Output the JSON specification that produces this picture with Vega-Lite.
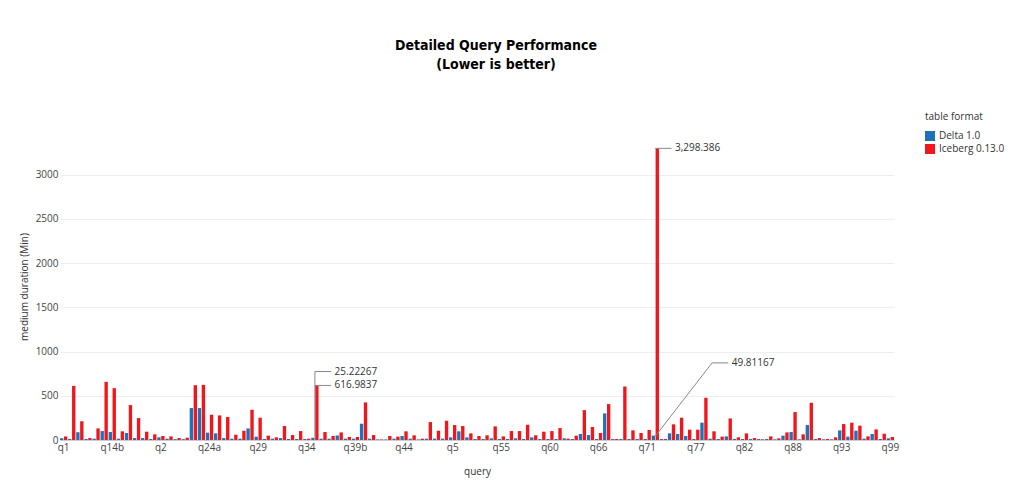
{
  "$schema": "https://vega.github.io/schema/vega-lite/v6.json",
  "width": 834,
  "height": 307,
  "autosize": {"type": "none"},
  "padding": {"left": 60, "top": 133, "right": 130, "bottom": 41},
  "title": {
    "text": ["Detailed Query Performance", "(Lower is better)"],
    "font": "Liberation Sans Narrow, DejaVu Sans Condensed, sans-serif",
    "fontSize": 14,
    "fontWeight": "bold",
    "lineHeight": 19,
    "color": "#000000",
    "anchor": "middle",
    "dx": 19,
    "offset": 40
  },
  "config": {
    "view": {"stroke": null},
    "font": "Open Sans",
    "axis": {"labelFont": "Open Sans", "titleFont": "Open Sans"},
    "legend": {"labelFont": "Open Sans", "titleFont": "Open Sans"}
  },
  "layer": [
    {
      "data": {
        "values": [
          {"query": "q1", "format": "Delta 1.0", "duration": 20}, {"query": "q1", "format": "Iceberg 0.13.0", "duration": 40},
          {"query": "q10", "format": "Delta 1.0", "duration": 12}, {"query": "q10", "format": "Iceberg 0.13.0", "duration": 612},
          {"query": "q11", "format": "Delta 1.0", "duration": 88}, {"query": "q11", "format": "Iceberg 0.13.0", "duration": 212},
          {"query": "q12", "format": "Delta 1.0", "duration": 11}, {"query": "q12", "format": "Iceberg 0.13.0", "duration": 22},
          {"query": "q13", "format": "Delta 1.0", "duration": 15}, {"query": "q13", "format": "Iceberg 0.13.0", "duration": 131},
          {"query": "q14a", "format": "Delta 1.0", "duration": 101}, {"query": "q14a", "format": "Iceberg 0.13.0", "duration": 658},
          {"query": "q14b", "format": "Delta 1.0", "duration": 90}, {"query": "q14b", "format": "Iceberg 0.13.0", "duration": 586},
          {"query": "q15", "format": "Delta 1.0", "duration": 15}, {"query": "q15", "format": "Iceberg 0.13.0", "duration": 98},
          {"query": "q16", "format": "Delta 1.0", "duration": 79}, {"query": "q16", "format": "Iceberg 0.13.0", "duration": 395},
          {"query": "q17", "format": "Delta 1.0", "duration": 22}, {"query": "q17", "format": "Iceberg 0.13.0", "duration": 248},
          {"query": "q18", "format": "Delta 1.0", "duration": 22}, {"query": "q18", "format": "Iceberg 0.13.0", "duration": 94},
          {"query": "q19", "format": "Delta 1.0", "duration": 11}, {"query": "q19", "format": "Iceberg 0.13.0", "duration": 64},
          {"query": "q2", "format": "Delta 1.0", "duration": 30}, {"query": "q2", "format": "Iceberg 0.13.0", "duration": 45},
          {"query": "q20", "format": "Delta 1.0", "duration": 15}, {"query": "q20", "format": "Iceberg 0.13.0", "duration": 41},
          {"query": "q21", "format": "Delta 1.0", "duration": 10}, {"query": "q21", "format": "Iceberg 0.13.0", "duration": 22},
          {"query": "q22", "format": "Delta 1.0", "duration": 10}, {"query": "q22", "format": "Iceberg 0.13.0", "duration": 26},
          {"query": "q23a", "format": "Delta 1.0", "duration": 361}, {"query": "q23a", "format": "Iceberg 0.13.0", "duration": 620},
          {"query": "q23b", "format": "Delta 1.0", "duration": 361}, {"query": "q23b", "format": "Iceberg 0.13.0", "duration": 624},
          {"query": "q24a", "format": "Delta 1.0", "duration": 83}, {"query": "q24a", "format": "Iceberg 0.13.0", "duration": 286},
          {"query": "q24b", "format": "Delta 1.0", "duration": 75}, {"query": "q24b", "format": "Iceberg 0.13.0", "duration": 278},
          {"query": "q25", "format": "Delta 1.0", "duration": 22}, {"query": "q25", "format": "Iceberg 0.13.0", "duration": 260},
          {"query": "q26", "format": "Delta 1.0", "duration": 15}, {"query": "q26", "format": "Iceberg 0.13.0", "duration": 60},
          {"query": "q27", "format": "Delta 1.0", "duration": 15}, {"query": "q27", "format": "Iceberg 0.13.0", "duration": 105},
          {"query": "q28", "format": "Delta 1.0", "duration": 131}, {"query": "q28", "format": "Iceberg 0.13.0", "duration": 342},
          {"query": "q29", "format": "Delta 1.0", "duration": 38}, {"query": "q29", "format": "Iceberg 0.13.0", "duration": 252},
          {"query": "q3", "format": "Delta 1.0", "duration": 11}, {"query": "q3", "format": "Iceberg 0.13.0", "duration": 49},
          {"query": "q30", "format": "Delta 1.0", "duration": 15}, {"query": "q30", "format": "Iceberg 0.13.0", "duration": 30},
          {"query": "q31", "format": "Delta 1.0", "duration": 22}, {"query": "q31", "format": "Iceberg 0.13.0", "duration": 158},
          {"query": "q32", "format": "Delta 1.0", "duration": 11}, {"query": "q32", "format": "Iceberg 0.13.0", "duration": 56},
          {"query": "q33", "format": "Delta 1.0", "duration": 11}, {"query": "q33", "format": "Iceberg 0.13.0", "duration": 101},
          {"query": "q34", "format": "Delta 1.0", "duration": 11}, {"query": "q34", "format": "Iceberg 0.13.0", "duration": 15},
          {"query": "q35", "format": "Delta 1.0", "duration": 25.22267}, {"query": "q35", "format": "Iceberg 0.13.0", "duration": 616.9837},
          {"query": "q36", "format": "Delta 1.0", "duration": 15}, {"query": "q36", "format": "Iceberg 0.13.0", "duration": 90},
          {"query": "q37", "format": "Delta 1.0", "duration": 15}, {"query": "q37", "format": "Iceberg 0.13.0", "duration": 45},
          {"query": "q38", "format": "Delta 1.0", "duration": 51}, {"query": "q38", "format": "Iceberg 0.13.0", "duration": 86},
          {"query": "q39a", "format": "Delta 1.0", "duration": 15}, {"query": "q39a", "format": "Iceberg 0.13.0", "duration": 34},
          {"query": "q39b", "format": "Delta 1.0", "duration": 15}, {"query": "q39b", "format": "Iceberg 0.13.0", "duration": 34},
          {"query": "q4", "format": "Delta 1.0", "duration": 184}, {"query": "q4", "format": "Iceberg 0.13.0", "duration": 425},
          {"query": "q40", "format": "Delta 1.0", "duration": 15}, {"query": "q40", "format": "Iceberg 0.13.0", "duration": 56},
          {"query": "q41", "format": "Delta 1.0", "duration": 7}, {"query": "q41", "format": "Iceberg 0.13.0", "duration": 7},
          {"query": "q42", "format": "Delta 1.0", "duration": 7}, {"query": "q42", "format": "Iceberg 0.13.0", "duration": 45},
          {"query": "q43", "format": "Delta 1.0", "duration": 15}, {"query": "q43", "format": "Iceberg 0.13.0", "duration": 38},
          {"query": "q44", "format": "Delta 1.0", "duration": 45}, {"query": "q44", "format": "Iceberg 0.13.0", "duration": 98},
          {"query": "q45", "format": "Delta 1.0", "duration": 15}, {"query": "q45", "format": "Iceberg 0.13.0", "duration": 53},
          {"query": "q46", "format": "Delta 1.0", "duration": 7}, {"query": "q46", "format": "Iceberg 0.13.0", "duration": 15},
          {"query": "q47", "format": "Delta 1.0", "duration": 15}, {"query": "q47", "format": "Iceberg 0.13.0", "duration": 203},
          {"query": "q48", "format": "Delta 1.0", "duration": 15}, {"query": "q48", "format": "Iceberg 0.13.0", "duration": 105},
          {"query": "q49", "format": "Delta 1.0", "duration": 15}, {"query": "q49", "format": "Iceberg 0.13.0", "duration": 218},
          {"query": "q5", "format": "Delta 1.0", "duration": 30}, {"query": "q5", "format": "Iceberg 0.13.0", "duration": 169},
          {"query": "q50", "format": "Delta 1.0", "duration": 98}, {"query": "q50", "format": "Iceberg 0.13.0", "duration": 158},
          {"query": "q51", "format": "Delta 1.0", "duration": 30}, {"query": "q51", "format": "Iceberg 0.13.0", "duration": 75},
          {"query": "q52", "format": "Delta 1.0", "duration": 11}, {"query": "q52", "format": "Iceberg 0.13.0", "duration": 45},
          {"query": "q53", "format": "Delta 1.0", "duration": 11}, {"query": "q53", "format": "Iceberg 0.13.0", "duration": 53},
          {"query": "q54", "format": "Delta 1.0", "duration": 19}, {"query": "q54", "format": "Iceberg 0.13.0", "duration": 154},
          {"query": "q55", "format": "Delta 1.0", "duration": 11}, {"query": "q55", "format": "Iceberg 0.13.0", "duration": 41},
          {"query": "q56", "format": "Delta 1.0", "duration": 11}, {"query": "q56", "format": "Iceberg 0.13.0", "duration": 101},
          {"query": "q57", "format": "Delta 1.0", "duration": 19}, {"query": "q57", "format": "Iceberg 0.13.0", "duration": 101},
          {"query": "q58", "format": "Delta 1.0", "duration": 11}, {"query": "q58", "format": "Iceberg 0.13.0", "duration": 173},
          {"query": "q59", "format": "Delta 1.0", "duration": 30}, {"query": "q59", "format": "Iceberg 0.13.0", "duration": 53},
          {"query": "q6", "format": "Delta 1.0", "duration": 11}, {"query": "q6", "format": "Iceberg 0.13.0", "duration": 94},
          {"query": "q60", "format": "Delta 1.0", "duration": 11}, {"query": "q60", "format": "Iceberg 0.13.0", "duration": 101},
          {"query": "q61", "format": "Delta 1.0", "duration": 11}, {"query": "q61", "format": "Iceberg 0.13.0", "duration": 135},
          {"query": "q62", "format": "Delta 1.0", "duration": 19}, {"query": "q62", "format": "Iceberg 0.13.0", "duration": 15},
          {"query": "q63", "format": "Delta 1.0", "duration": 11}, {"query": "q63", "format": "Iceberg 0.13.0", "duration": 49},
          {"query": "q64", "format": "Delta 1.0", "duration": 68}, {"query": "q64", "format": "Iceberg 0.13.0", "duration": 338},
          {"query": "q65", "format": "Delta 1.0", "duration": 56}, {"query": "q65", "format": "Iceberg 0.13.0", "duration": 147},
          {"query": "q66", "format": "Delta 1.0", "duration": 11}, {"query": "q66", "format": "Iceberg 0.13.0", "duration": 79},
          {"query": "q67", "format": "Delta 1.0", "duration": 301}, {"query": "q67", "format": "Iceberg 0.13.0", "duration": 406},
          {"query": "q68", "format": "Delta 1.0", "duration": 11}, {"query": "q68", "format": "Iceberg 0.13.0", "duration": 11},
          {"query": "q69", "format": "Delta 1.0", "duration": 11}, {"query": "q69", "format": "Iceberg 0.13.0", "duration": 605},
          {"query": "q7", "format": "Delta 1.0", "duration": 11}, {"query": "q7", "format": "Iceberg 0.13.0", "duration": 109},
          {"query": "q70", "format": "Delta 1.0", "duration": 11}, {"query": "q70", "format": "Iceberg 0.13.0", "duration": 79},
          {"query": "q71", "format": "Delta 1.0", "duration": 11}, {"query": "q71", "format": "Iceberg 0.13.0", "duration": 113},
          {"query": "q72", "format": "Delta 1.0", "duration": 49.81167}, {"query": "q72", "format": "Iceberg 0.13.0", "duration": 3298.386},
          {"query": "q73", "format": "Delta 1.0", "duration": 11}, {"query": "q73", "format": "Iceberg 0.13.0", "duration": 11},
          {"query": "q74", "format": "Delta 1.0", "duration": 75}, {"query": "q74", "format": "Iceberg 0.13.0", "duration": 177},
          {"query": "q75", "format": "Delta 1.0", "duration": 68}, {"query": "q75", "format": "Iceberg 0.13.0", "duration": 252},
          {"query": "q76", "format": "Delta 1.0", "duration": 45}, {"query": "q76", "format": "Iceberg 0.13.0", "duration": 117},
          {"query": "q77", "format": "Delta 1.0", "duration": 11}, {"query": "q77", "format": "Iceberg 0.13.0", "duration": 117},
          {"query": "q78", "format": "Delta 1.0", "duration": 196}, {"query": "q78", "format": "Iceberg 0.13.0", "duration": 478},
          {"query": "q79", "format": "Delta 1.0", "duration": 15}, {"query": "q79", "format": "Iceberg 0.13.0", "duration": 98},
          {"query": "q8", "format": "Delta 1.0", "duration": 11}, {"query": "q8", "format": "Iceberg 0.13.0", "duration": 38},
          {"query": "q80", "format": "Delta 1.0", "duration": 41}, {"query": "q80", "format": "Iceberg 0.13.0", "duration": 244},
          {"query": "q81", "format": "Delta 1.0", "duration": 11}, {"query": "q81", "format": "Iceberg 0.13.0", "duration": 30},
          {"query": "q82", "format": "Delta 1.0", "duration": 11}, {"query": "q82", "format": "Iceberg 0.13.0", "duration": 75},
          {"query": "q83", "format": "Delta 1.0", "duration": 11}, {"query": "q83", "format": "Iceberg 0.13.0", "duration": 22},
          {"query": "q84", "format": "Delta 1.0", "duration": 11}, {"query": "q84", "format": "Iceberg 0.13.0", "duration": 8},
          {"query": "q85", "format": "Delta 1.0", "duration": 11}, {"query": "q85", "format": "Iceberg 0.13.0", "duration": 41},
          {"query": "q86", "format": "Delta 1.0", "duration": 8}, {"query": "q86", "format": "Iceberg 0.13.0", "duration": 19},
          {"query": "q87", "format": "Delta 1.0", "duration": 49}, {"query": "q87", "format": "Iceberg 0.13.0", "duration": 86},
          {"query": "q88", "format": "Delta 1.0", "duration": 90}, {"query": "q88", "format": "Iceberg 0.13.0", "duration": 316},
          {"query": "q89", "format": "Delta 1.0", "duration": 8}, {"query": "q89", "format": "Iceberg 0.13.0", "duration": 64},
          {"query": "q9", "format": "Delta 1.0", "duration": 169}, {"query": "q9", "format": "Iceberg 0.13.0", "duration": 421},
          {"query": "q90", "format": "Delta 1.0", "duration": 11}, {"query": "q90", "format": "Iceberg 0.13.0", "duration": 22},
          {"query": "q91", "format": "Delta 1.0", "duration": 8}, {"query": "q91", "format": "Iceberg 0.13.0", "duration": 11},
          {"query": "q92", "format": "Delta 1.0", "duration": 8}, {"query": "q92", "format": "Iceberg 0.13.0", "duration": 30},
          {"query": "q93", "format": "Delta 1.0", "duration": 109}, {"query": "q93", "format": "Iceberg 0.13.0", "duration": 180},
          {"query": "q94", "format": "Delta 1.0", "duration": 38}, {"query": "q94", "format": "Iceberg 0.13.0", "duration": 196},
          {"query": "q95", "format": "Delta 1.0", "duration": 105}, {"query": "q95", "format": "Iceberg 0.13.0", "duration": 162},
          {"query": "q96", "format": "Delta 1.0", "duration": 15}, {"query": "q96", "format": "Iceberg 0.13.0", "duration": 41},
          {"query": "q97", "format": "Delta 1.0", "duration": 68}, {"query": "q97", "format": "Iceberg 0.13.0", "duration": 120},
          {"query": "q98", "format": "Delta 1.0", "duration": 11}, {"query": "q98", "format": "Iceberg 0.13.0", "duration": 71},
          {"query": "q99", "format": "Delta 1.0", "duration": 19}, {"query": "q99", "format": "Iceberg 0.13.0", "duration": 34}
        ]
      },
      "mark": {"type": "bar"},
      "encoding": {
        "x": {
          "field": "query",
          "type": "nominal",
          "scale": {
            "domain": ["q1","q10","q11","q12","q13","q14a","q14b","q15","q16","q17","q18","q19","q2","q20","q21","q22","q23a","q23b","q24a","q24b","q25","q26","q27","q28","q29","q3","q30","q31","q32","q33","q34","q35","q36","q37","q38","q39a","q39b","q4","q40","q41","q42","q43","q44","q45","q46","q47","q48","q49","q5","q50","q51","q52","q53","q54","q55","q56","q57","q58","q59","q6","q60","q61","q62","q63","q64","q65","q66","q67","q68","q69","q7","q70","q71","q72","q73","q74","q75","q76","q77","q78","q79","q8","q80","q81","q82","q83","q84","q85","q86","q87","q88","q89","q9","q90","q91","q92","q93","q94","q95","q96","q97","q98","q99"],
            "paddingInner": 0.1,
            "paddingOuter": 0
          },
          "axis": {
            "title": "query",
            "values": ["q1","q14b","q2","q24a","q29","q34","q39b","q44","q5","q55","q60","q66","q71","q77","q82","q88","q93","q99"],
            "labelAngle": 0,
            "ticks": false,
            "labelPadding": 2,
            "labelFontSize": 10,
            "labelColor": "#444444",
            "titleFontSize": 10,
            "titleFontWeight": "normal",
            "titleColor": "#333333",
            "titlePadding": 14,
            "domainColor": "#cccccc",
            "grid": false
          }
        },
        "xOffset": {"field": "format", "type": "nominal", "scale": {"paddingInner": 0.15}},
        "y": {
          "field": "duration",
          "type": "quantitative",
          "scale": {"domain": [0, 3472], "nice": false},
          "axis": {
            "title": "medium duration (Min)",
            "values": [0, 500, 1000, 1500, 2000, 2500, 3000],
            "format": "d",
            "ticks": false,
            "domain": false,
            "gridColor": "#eeeeee",
            "labelPadding": 2,
            "labelFontSize": 10,
            "labelColor": "#444444",
            "titleFontSize": 10,
            "titleFontWeight": "normal",
            "titleColor": "#333333",
            "titlePadding": 6
          }
        },
        "color": {
          "field": "format",
          "type": "nominal",
          "scale": {"domain": ["Delta 1.0", "Iceberg 0.13.0"], "range": ["#1f71b8", "#f0161b"]},
          "legend": {
            "title": "table format",
            "orient": "none",
            "legendX": 865,
            "legendY": -21,
            "titleFontSize": 10,
            "titleFontWeight": "normal",
            "titleColor": "#333333",
            "titlePadding": 9,
            "labelFontSize": 10,
            "labelColor": "#333333",
            "symbolType": "square",
            "symbolSize": 100,
            "symbolStrokeWidth": 0,
            "rowPadding": 3
          }
        }
      }
    },
    {
      "data": {
        "values": [
          {"x1": "q72", "x2": "q74", "y1": 3298.386, "y2": 3298.386},
          {"x1": "q72", "x2": "q79", "y1": 43, "y2": 872},
          {"x1": "q79", "x2": "q80", "y1": 872, "y2": 872},
          {"x1": "q35", "x2": "q35", "y1": 25, "y2": 774},
          {"x1": "q35", "x2": "q37", "y1": 774, "y2": 774},
          {"x1": "q35", "x2": "q37", "y1": 617, "y2": 617}
        ]
      },
      "mark": {"type": "rule", "color": "#888888", "strokeWidth": 1},
      "encoding": {
        "x": {"field": "x1", "type": "nominal"},
        "x2": {"field": "x2"},
        "y": {"field": "y1", "type": "quantitative"},
        "y2": {"field": "y2"}
      }
    },
    {
      "data": {
        "values": [
          {"q": "q74", "v": 3298.386, "label": "3,298.386"},
          {"q": "q80", "v": 872, "label": "49.81167"},
          {"q": "q37", "v": 774, "label": "25.22267"},
          {"q": "q37", "v": 617, "label": "616.9837"}
        ]
      },
      "mark": {"type": "text", "align": "left", "baseline": "middle", "dx": 3.5, "fontSize": 10, "color": "#333333", "font": "Open Sans"},
      "encoding": {
        "x": {"field": "q", "type": "nominal"},
        "y": {"field": "v", "type": "quantitative"},
        "text": {"field": "label"}
      }
    }
  ]
}
